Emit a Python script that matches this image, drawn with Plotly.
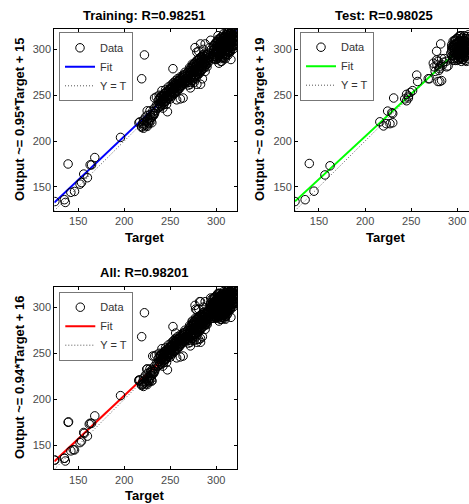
import plotly.graph_objects as go

# ---------------- data ----------------
ticks = [150, 200, 250, 300]

titles = ["Training: R=0.98251", "Test: R=0.98025", "All: R=0.98201"]
ylabels = ["Output ~= 0.95*Target + 15", "Output ~= 0.93*Target + 19", "Output ~= 0.94*Target + 16"]
fit_slope = [0.95, 0.93, 0.94]
fit_icpt = [15, 19, 16]
fit_colors = ["#0000ff", "#00ff00", "#ff0000"]

train_low = [(124.6, 134), (135, 136), (136, 133), (139, 175), (142, 144), (146, 145), (152, 153),
             (153.6, 154.7), (156, 164), (160, 160), (163, 174), (164.5, 174), (168, 182), (196, 204)]
train_mid = [(216, 220), (219, 216), (221, 223), (221, 217), (223, 226), (225, 228), (227, 219),
             (228.5, 229), (230, 220), (232, 230), (228, 233), (230.7, 232), (234, 233), (219, 215),
             (222, 218), (224, 221), (226, 224), (229, 226), (231, 228), (233, 236), (225, 233),
             (227, 222), (217, 221), (219, 268), (222, 294), (220, 219), (222, 221), (224, 217),
             (226, 220), (228, 224), (230, 226), (232, 228), (221, 214), (225, 216), (229, 222),
             (233, 230), (235, 239), (237, 236)]
train_a = [(236, 238), (237, 244), (238, 241), (239, 247), (240, 243), (240, 238), (241, 250), (241, 255),
           (242, 245), (243, 240), (243, 249), (244, 252), (244, 246), (245, 243), (245, 256), (246, 250),
           (247, 232), (247, 247), (248, 254), (248, 259), (249, 251), (250, 246), (250, 256), (251, 261),
           (251, 253), (252, 249), (252, 258), (253, 263), (253, 279), (254, 256), (254, 264), (255, 260),
           (255, 252), (256, 266), (256, 258), (257, 262), (258, 255), (258, 268), (259, 263), (259, 259),
           (260, 266), (260, 257), (261, 246), (261, 270), (262, 264), (262, 261), (263, 268), (264, 265),
           (264, 272), (265, 270), (266, 275), (267, 268), (268, 266), (264, 247), (257, 245), (246, 240),
           (242, 236), (235, 248), (233, 247), (238, 250)]
train_a_dense = [(238, [237, 241, 246]), (239.5, [239, 243, 248]), (241, [240, 244, 249]),
                 (242.5, [242, 246, 250]), (244, [243, 247, 252]), (245.5, [244, 249, 253]),
                 (247, [246, 250, 255]), (248.5, [247, 251, 256]), (250, [249, 253, 257]),
                 (251.5, [250, 254, 259]), (253, [252, 256, 260]), (254.5, [253, 257, 262]),
                 (256, [254, 259, 263]), (257.5, [256, 260, 265]), (259, [257, 261, 266]),
                 (260.5, [259, 263, 267]), (262, [260, 264, 269]), (263.5, [261, 266, 270]),
                 (265, [263, 267, 272]), (266.5, [264, 268, 273])]
train_b = [(268, 266), (269, 272), (270, 268), (271, 275), (272, 270), (272, 262), (273, 277), (274, 273),
           (274, 266), (275, 280), (275, 270), (276, 276), (276, 284), (277, 272), (277, 279), (278, 283),
           (278, 268), (279, 276), (279, 288), (280, 280), (280, 272), (281, 285), (281, 278), (282, 290),
           (282, 274), (283, 282), (283, 287), (284, 278), (284, 292), (285, 285), (285, 281), (286, 289),
           (286, 282), (287, 286), (287, 293), (288, 283), (289, 290), (289, 286), (290, 294), (291, 288),
           (290, 281), (292, 292), (276, 264), (279, 262), (283, 262), (285, 268), (288, 276), (272, 258),
           (270, 261), (279, 297), (283, 306), (288, 306), (290, 295), (277, 302), (274, 284), (271, 280),
           (269, 264), (286, 300), (281, 298)]
train_b_dense = [(269, [265, 270, 275]), (270.5, [267, 272, 277]), (272, [264, 269, 274, 279]),
                 (273.5, [266, 271, 276, 281]), (275, [268, 273, 278, 283]), (276.5, [270, 275, 280, 285]),
                 (278, [271, 276, 281, 286]), (279.5, [273, 278, 283, 288]), (281, [274, 279, 284, 289]),
                 (282.5, [276, 281, 286, 291]), (284, [277, 282, 287, 292]), (285.5, [279, 284, 289, 294]),
                 (287, [280, 285, 290, 295]), (288.5, [282, 287, 292]), (290, [284, 289, 294]),
                 (291.5, [286, 291, 296])]
train_c = [(296, 292), (297, 299), (298, 304), (298, 295), (299, 289), (300, 301), (300, 308), (301, 296),
           (301, 290), (302, 303), (302, 311), (303, 298), (303, 292), (304, 306), (304, 300), (305, 287),
           (305, 295), (305, 310), (306, 302), (306, 298), (307, 305), (307, 291), (308, 300), (308, 313),
           (309, 296), (309, 307), (310, 302), (310, 290), (311, 310), (311, 298), (312, 305), (312, 316),
           (313, 300), (313, 294), (314, 311), (314, 307), (315, 318), (315, 302), (316, 289), (316, 313),
           (317, 308), (317, 320), (318, 304), (318, 316), (319, 311), (319, 319), (320, 314), (320, 306),
           (321, 318), (321, 321), (322, 313), (322, 309), (299, 297), (303, 285), (306, 287), (310, 294),
           (315, 297), (318, 300), (321, 305), (308, 317), (312, 320), (305, 313), (302, 315), (300, 292),
           (297, 293), (304, 294), (309, 312), (313, 315), (316, 319), (319, 301), (294, 310), (293, 302)]
train_c_dense = [(297, [290, 295, 300, 304]), (298.5, [292, 297, 301, 306]), (300, [289, 294, 298, 303, 307]),
                 (301.5, [291, 296, 300, 305, 309]), (303, [293, 298, 302, 306, 311]),
                 (304.5, [290, 295, 299, 304, 308, 312]), (306, [292, 297, 301, 306, 310, 314]),
                 (307.5, [294, 299, 303, 308, 312]), (309, [291, 296, 300, 305, 309, 314]),
                 (310.5, [293, 298, 302, 307, 311, 316]), (312, [295, 300, 304, 309, 313, 318]),
                 (313.5, [297, 302, 306, 311, 315, 319]), (315, [299, 304, 308, 313, 317, 321]),
                 (316.5, [301, 306, 310, 315, 319]), (318, [303, 308, 312, 316, 320]),
                 (319.5, [305, 309, 314, 318, 321]), (321, [307, 311, 315, 319, 322]),
                 (322, [309, 313, 317, 320])]

test_pts = [(124, 134), (135, 136), (139.5, 175.5), (144.6, 145.3), (156.5, 163), (162, 173),
            (216, 221), (220, 216.5), (223, 219), (227, 219), (230, 220), (224.5, 232.7), (230, 230),
            (231, 247), (229, 231), (243, 246), (245, 244), (247, 249), (249, 253), (245, 251), (247, 247),
            (251.5, 255), (256, 272), (257, 265), (268.5, 268), (270, 268), (274, 285), (277.6, 288.5),
            (281, 281), (279, 265), (281, 265), (283, 266), (277.6, 298), (282, 306), (288.4, 281),
            (283, 290), (280, 277), (278, 283), (285, 286), (290, 282), (276, 276), (294, 305), (297.5, 305),
            (275, 281), (279, 287), (284, 283), (286, 290), (281, 279), (288, 287),
            (293, 296), (294, 300), (295, 290), (296, 304), (297, 297), (298, 288), (299, 301), (300, 294),
            (301, 308), (302, 299), (303, 291), (304, 303), (305, 296), (306, 310), (307, 300), (308, 293),
            (309, 305), (310, 298), (311, 312), (312, 302), (313, 296), (314, 308), (315, 315), (316, 300),
            (317, 311), (318, 305), (319, 318), (320, 309), (321, 315), (322, 312), (300, 312), (304, 315),
            (310, 287), (306, 289), (298, 310), (296, 293), (299, 306), (302, 294), (303, 309), (305, 302),
            (307, 306), (309, 292), (311, 303), (301, 290), (308, 309), (312, 297), (297, 301), (300, 298),
            (305, 291), (310, 307), (313, 304), (295, 302), (303, 297)]
test_dense = [(294, [293, 298, 303]), (295.5, [288, 294, 299, 304, 309]), (297, [290, 295, 300, 305, 310]),
              (298.5, [291, 296, 301, 306, 311]), (300, [288, 293, 297, 302, 307, 312]),
              (301.5, [289, 294, 299, 304, 309, 314]), (303, [291, 296, 300, 305, 310, 315]),
              (304.5, [287, 292, 297, 302, 307, 312]), (306, [289, 294, 299, 303, 308, 313]),
              (307.5, [291, 296, 300, 305, 310, 315]), (309, [288, 293, 298, 302, 307, 312]),
              (310.5, [290, 295, 300, 304, 309, 314]), (312, [292, 297, 301, 306, 311, 316])]


def expand(rows):
    return [(t, o) for t, outs in rows for o in outs]


train_pts = (train_low + train_mid + train_a + expand(train_a_dense) + train_b + expand(train_b_dense)
             + train_c + expand(train_c_dense))
test_all = test_pts + expand(test_dense)
all_pts = train_pts + test_all
datasets = [train_pts, test_all, all_pts]

axis_min, axis_max = 124, 322.3
x_max = [axis_max, 312.7, axis_max]

# ---------------- layout geometry (pixels) ----------------
W, H = 469, 504
boxes = [(54.3, 236.7, 29, 210.7), (295, 469, 29, 210.7), (54.3, 236.7, 286.7, 469.3)]
legend_pos = [(59, 32.3), (300, 31.7), (59.3, 291.7)]
title_pos = [(144, 15), (384, 15), (144, 272.7)]
xlab_pos = [(144.5, 237), (385, 237), (144.5, 495)]
ylab_pos = [(19, 120), (259, 120), (19, 378)]

FONT = "Liberation Sans, Arial, Helvetica, sans-serif"

fig = go.Figure()
layout = dict(width=W, height=H, margin=dict(l=0, r=0, t=0, b=0),
              paper_bgcolor="white", plot_bgcolor="white", showlegend=True,
              font=dict(family=FONT, color="#222"), annotations=[])

for i in range(3):
    sfx = "" if i == 0 else str(i + 1)
    xa, ya = "x" + sfx, "y" + sfx
    lg = "legend" + sfx
    pts = datasets[i]
    tx = [p[0] for p in pts]
    ty = [p[1] for p in pts]
    lo, hi = axis_min, axis_max
    fig.add_trace(go.Scatter(x=[lo, hi], y=[lo, hi], mode="lines", name="Y = T",
                             line=dict(color="#555555", width=1, dash="1px,2px"),
                             xaxis=xa, yaxis=ya, legend=lg, legendrank=3))
    fig.add_trace(go.Scatter(x=[lo, hi], y=[fit_slope[i] * lo + fit_icpt[i], fit_slope[i] * hi + fit_icpt[i]],
                             mode="lines", name="Fit", line=dict(color=fit_colors[i], width=2),
                             xaxis=xa, yaxis=ya, legend=lg, legendrank=2))
    fig.add_trace(go.Scatter(x=tx, y=ty, mode="markers", name="Data",
                             marker=dict(symbol="circle-open", size=8.5, color="black", line=dict(width=1)),
                             xaxis=xa, yaxis=ya, legend=lg, legendrank=1))

    x0, x1, y0, y1 = boxes[i]
    common = dict(showline=True, linecolor="black", linewidth=1, ticks="inside", ticklen=3,
                  tickcolor="black", tickvals=ticks, showgrid=False, zeroline=False,
                  tickfont=dict(size=11, color="#4a4a4a", family=FONT))
    layout["xaxis" + sfx] = dict(common, domain=[x0 / W, x1 / W], range=[axis_min, x_max[i]],
                                 anchor=ya, mirror="allticks")
    layout["yaxis" + sfx] = dict(common, domain=[1 - y1 / H, 1 - y0 / H], range=[axis_min, axis_max],
                                 anchor=xa, mirror=("allticks" if i != 1 else False))
    lx, ly = legend_pos[i]
    layout[lg] = dict(x=lx / W, y=1 - ly / H, xref="paper", yref="paper", xanchor="left", yanchor="top",
                      bgcolor="white", bordercolor="#777777", borderwidth=1, tracegroupgap=0,
                      itemwidth=30, font=dict(size=11, color="#333", family=FONT))
    tpx, tpy = title_pos[i]
    layout["annotations"].append(dict(text="<b>" + titles[i] + "</b>", x=tpx / W, y=1 - tpy / H,
                                      xref="paper", yref="paper", showarrow=False,
                                      xanchor="center", yanchor="middle",
                                      font=dict(size=13, color="black", family=FONT)))
    xlx, xly = xlab_pos[i]
    layout["annotations"].append(dict(text="<b>Target</b>", x=xlx / W, y=1 - xly / H,
                                      xref="paper", yref="paper", showarrow=False,
                                      xanchor="center", yanchor="middle",
                                      font=dict(size=13, color="black", family=FONT)))
    ylx, yly = ylab_pos[i]
    layout["annotations"].append(dict(text="<b>" + ylabels[i] + "</b>", x=ylx / W, y=1 - yly / H,
                                      xref="paper", yref="paper", showarrow=False, textangle=-90,
                                      xanchor="center", yanchor="middle",
                                      font=dict(size=13, color="black", family=FONT)))

fig.update_layout(**layout)
fig.write_html("out.html", config={"displayModeBar": False},
               post_script="document.body.style.margin='0px';")
